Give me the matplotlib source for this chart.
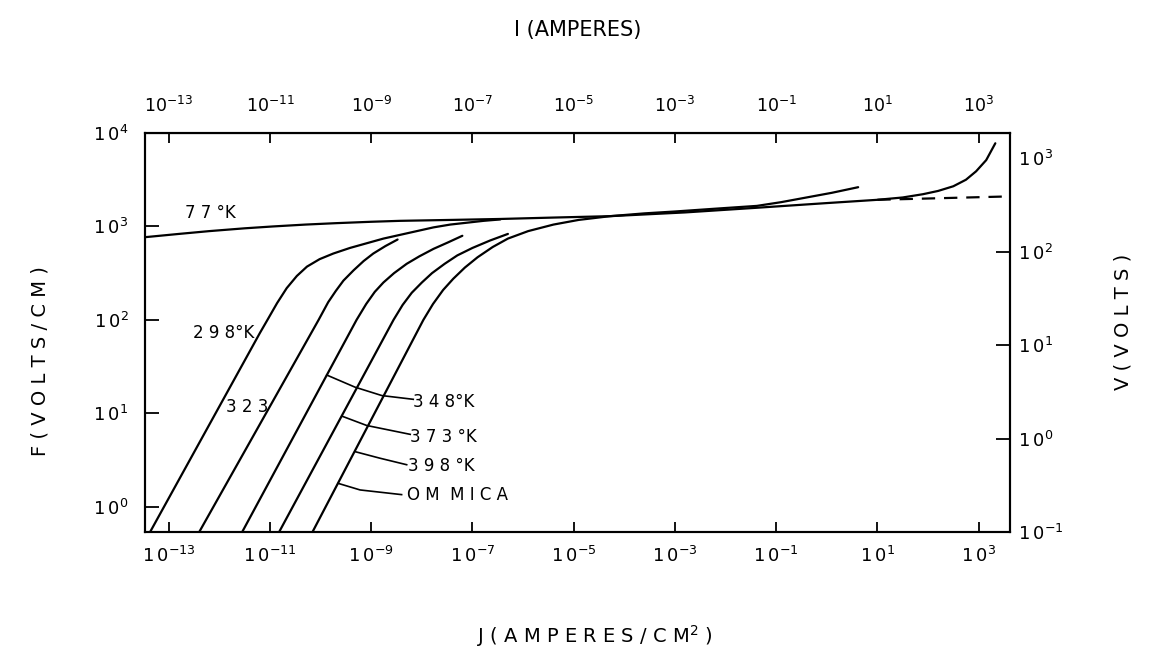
import numpy as np
import matplotlib
matplotlib.use("Agg")
import matplotlib.pyplot as plt
from matplotlib.ticker import FixedLocator, FuncFormatter, NullLocator

plt.rcParams['font.family'] = ['DejaVu Sans']
plt.rcParams['mathtext.fontset'] = 'dejavusans'

# ---- curves: log10 J (A/cm^2) vs log10 F (V/cm) ----
t77_logj = [-13.47, -12.8, -12.2, -11.5, -10.94, -10.3, -9.7, -9.0, -8.43, -7.4, -6.45, -5.4,
            -4.28, -2.8, -1.38, 0.0, 1.0, 1.5, 1.9, 2.2, 2.5, 2.75, 2.95, 3.15, 3.33]
t77_logf = [2.885, 2.92, 2.95, 2.98, 3.0, 3.02, 3.035, 3.05, 3.06, 3.07, 3.08, 3.095,
            3.11, 3.15, 3.20, 3.25, 3.285, 3.31, 3.345, 3.38, 3.43, 3.50, 3.59, 3.71, 3.89]

ext77_logj = [1.0, 3.5]
ext77_logf = [3.285, 3.32]

t298_logj = [-13.40, -11.2, -11.04, -10.86, -10.67, -10.47, -10.27, -10.02, -9.75, -9.42, -9.09,
             -8.76, -8.43, -8.1, -7.77, -7.44, -7.11, -6.78, -6.45]
t298_logf = [-0.30, 1.86, 2.01, 2.18, 2.34, 2.47, 2.57, 2.65, 2.71, 2.77, 2.82,
             2.87, 2.91, 2.95, 2.99, 3.02, 3.04, 3.06, 3.075]

t323_logj = [-12.43, -10.04, -9.85, -9.70, -9.55, -9.35, -9.15, -8.96, -8.72, -8.48]
t323_logf = [-0.30, 2.0, 2.19, 2.31, 2.42, 2.53, 2.63, 2.71, 2.79, 2.86]

t348_logj = [-11.58, -9.29, -9.10, -8.93, -8.76, -8.55, -8.30, -8.05, -7.77, -7.48, -7.20]
t348_logf = [-0.30, 2.0, 2.17, 2.30, 2.40, 2.50, 2.60, 2.68, 2.76, 2.83, 2.90]

t373_logj = [-10.85, -8.56, -8.38, -8.20, -8.0, -7.80, -7.55, -7.30, -7.0, -6.65, -6.30]
t373_logf = [-0.30, 2.0, 2.16, 2.29, 2.40, 2.50, 2.60, 2.69, 2.77, 2.85, 2.92]

t398_logj = [-10.19, -7.97, -7.78, -7.58, -7.38, -7.15, -6.9, -6.6, -6.3, -5.9, -5.4, -4.9,
             -4.28, -3.6, -3.0, -2.2, -1.38, -0.9, -0.4, 0.1, 0.62]
t398_logf = [-0.30, 2.0, 2.17, 2.32, 2.44, 2.56, 2.67, 2.78, 2.87, 2.95, 3.02, 3.07,
             3.11, 3.14, 3.16, 3.19, 3.22, 3.26, 3.31, 3.36, 3.42]

# leader lines from labels to curves
lead348_logj = [-9.88, -9.32, -8.79, -8.17]
lead348_logf = [1.41, 1.28, 1.19, 1.15]
lead373_logj = [-9.58, -9.09, -8.23]
lead373_logf = [0.97, 0.87, 0.775]
lead398_logj = [-9.32, -8.83, -8.30]
lead398_logf = [0.59, 0.52, 0.45]
leadmica_logj = [-9.65, -9.22, -8.40]
leadmica_logf = [0.25, 0.18, 0.13]

# curve labels: (text, log10 J, log10 F)
curve_labels = [
    ("7 7 °K", -12.68, 3.14),
    ("2 9 8°K", -12.52, 1.86),
    ("3 2 3", -11.87, 1.07),
    ("3 4 8°K", -8.17, 1.12),
    ("3 7 3 °K", -8.23, 0.75),
    ("3 9 8 °K", -8.27, 0.44),
    ("O M  M I C A", -8.30, 0.126),
]

j_exponents = [-13, -11, -9, -7, -5, -3, -1, 1, 3]
f_exponents = [0, 1, 2, 3, 4]
v_major_exponents = [0, 1, 2]
v_edge_exponents = [-1, 3]

j_lim = (-13.47, 3.62)
f_lim = (-0.27, 4.0)
v_over_f = -0.73   # log10(V/F), sets the right-hand scale


def p(a):
    return 10.0 ** np.asarray(a)


fig = plt.figure(figsize=(11.55, 6.56), dpi=100)
ax = fig.add_axes([145 / 1155, 1 - 532 / 656, 865 / 1155, 399 / 656])
ax.set_xscale('log')
ax.set_yscale('log')
ax.set_xlim(p(j_lim[0]), p(j_lim[1]))
ax.set_ylim(p(f_lim[0]), p(f_lim[1]))

lw = 1.6
for lj, lf in [(t77_logj, t77_logf), (t298_logj, t298_logf), (t323_logj, t323_logf),
               (t348_logj, t348_logf), (t373_logj, t373_logf), (t398_logj, t398_logf)]:
    ax.plot(p(lj), p(lf), color='black', lw=lw, solid_capstyle='round', solid_joinstyle='round')
ax.plot(p(ext77_logj), p(ext77_logf), color='black', lw=lw, dashes=(6, 4))

for lj, lf in [(lead348_logj, lead348_logf), (lead373_logj, lead373_logf),
               (lead398_logj, lead398_logf), (leadmica_logj, leadmica_logf)]:
    ax.plot(p(lj), p(lf), color='black', lw=1.2, solid_joinstyle='round')

for txt, lj, lf in curve_labels:
    ax.text(p(lj), p(lf), txt, fontsize=12, ha='left', va='center')

for s in ax.spines.values():
    s.set_linewidth(1.5)


def pow_label(val, pos=None):
    e = int(round(np.log10(val)))
    return r'$\mathregular{1\,0^{%d}}$' % e


ax.xaxis.set_major_locator(FixedLocator(p(j_exponents)))
ax.xaxis.set_minor_locator(NullLocator())
ax.xaxis.set_major_formatter(FuncFormatter(pow_label))
ax.yaxis.set_major_locator(FixedLocator(p(f_exponents)))
ax.yaxis.set_minor_locator(NullLocator())
ax.yaxis.set_major_formatter(FuncFormatter(pow_label))
ax.tick_params(axis='x', direction='in', length=7, width=1.3, labelsize=13, pad=10)
ax.tick_params(axis='y', direction='in', length=10, width=1.3, labelsize=13, pad=12)

# top axis: total current I (same decades)
axt = ax.secondary_xaxis('top')
axt.xaxis.set_major_locator(FixedLocator(p(j_exponents)))
axt.xaxis.set_minor_locator(NullLocator())
axt.xaxis.set_major_formatter(
    FuncFormatter(lambda v, pos=None: r'$\mathregular{10^{%d}}$' % int(round(np.log10(v)))))
axt.tick_params(axis='x', direction='in', length=7, width=1.3, labelsize=12.5, pad=12)
for lab in axt.xaxis.get_ticklabels():
    lab.set_family(['Liberation Sans Narrow', 'DejaVu Sans'])

# right axis: voltage V
axr = ax.twinx()
axr.set_yscale('log')
axr.set_ylim(p(f_lim[0] + v_over_f), p(f_lim[1] + v_over_f))
axr.yaxis.set_major_locator(FixedLocator(p(v_major_exponents)))
axr.yaxis.set_minor_locator(FixedLocator(p(v_edge_exponents)))
axr.yaxis.set_major_formatter(FuncFormatter(pow_label))
axr.yaxis.set_minor_formatter(FuncFormatter(pow_label))
axr.tick_params(axis='y', which='major', direction='in', length=10, width=1.3, labelsize=13, pad=6)
axr.tick_params(axis='y', which='minor', direction='in', length=0, labelsize=13, pad=6)
for s in axr.spines.values():
    s.set_linewidth(1.5)

fig.text(0.5, 0.955, "I (AMPERES)", ha='center', va='center', fontsize=15)
fig.text(0.515, 0.03, r"J ( A M P E R E S / C M$^{\mathregular{2}}$ )", ha='center', va='center', fontsize=14)
fig.text(0.035, 0.45, "F ( V O L T S / C M )", ha='center', va='center', rotation=90, fontsize=14)
fig.text(0.972, 0.51, "V ( V O L T S )", ha='center', va='center', rotation=90, fontsize=14)

fig.savefig('out.png', dpi=100)
